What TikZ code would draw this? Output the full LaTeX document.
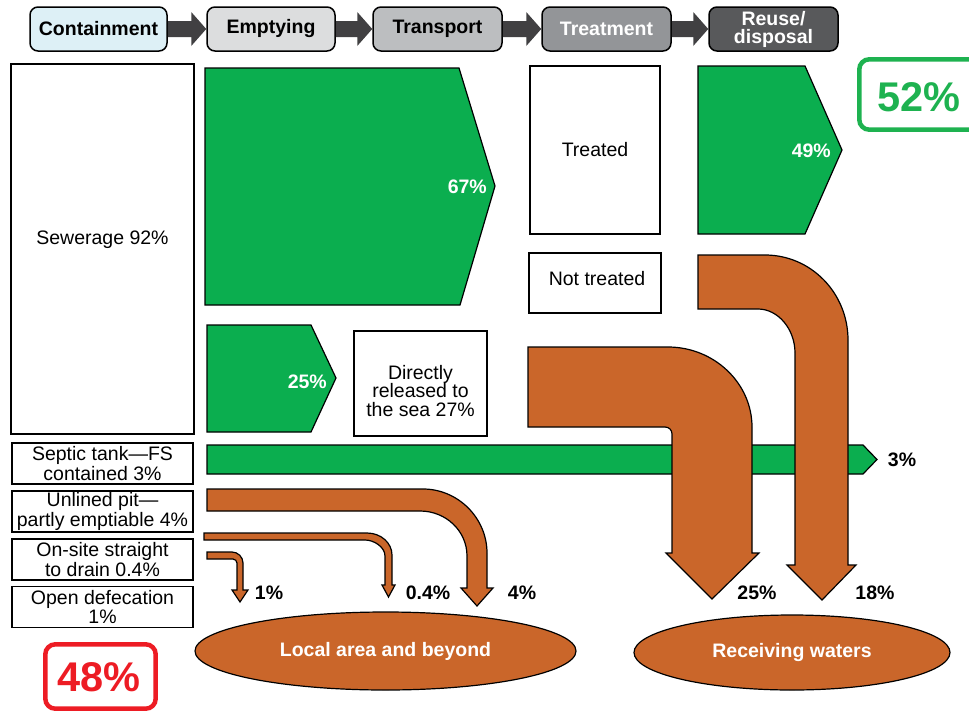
\documentclass[tikz,border=0pt]{standalone}
\usepackage{fontspec}
\setmainfont{Liberation Sans}
\usetikzlibrary{shapes.geometric,calc}
\definecolor{flowgreen}{RGB}{11,174,79}
\definecolor{floworange}{RGB}{202,102,42}
\definecolor{pctgreen}{RGB}{30,178,80}
\definecolor{pctred}{RGB}{237,28,36}
\definecolor{hdA}{RGB}{221,240,246}
\definecolor{hdB}{RGB}{220,221,222}
\definecolor{hdC}{RGB}{188,190,192}
\definecolor{hdD}{RGB}{147,149,152}
\definecolor{hdE}{RGB}{88,89,91}
\definecolor{hdarrowc}{RGB}{65,64,66}
\newcommand\hdconn[2]{\fill[hdarrowc] ($(#1.east)+(0,-8)$) -- ($(#2.west)+(-15,-8)$) -- ($(#2.west)+(-15,-17)$) -- (#2.west) -- ($(#2.west)+(-15,17)$) -- ($(#2.west)+(-15,8)$) -- ($(#1.east)+(0,8)$) -- cycle;}
\begin{document}
\begin{tikzpicture}[x=1pt,y=-1pt,
  every node/.style={font=\fontsize{19.5}{17}\selectfont, inner sep=0pt, align=center},
  hdbox/.style={draw=black, line width=1.5pt, rounded corners=8pt, minimum height=44pt, minimum width=129pt, font=\bfseries\fontsize{19.5}{18}\selectfont},
  box/.style={draw=black, line width=1.5pt, fill=white},
  sidebox/.style={box, minimum width=181pt, minimum height=41pt},
  greenflow/.style={fill=flowgreen, draw=black, line width=1.2pt},
  orangeflow/.style={fill=floworange, draw=black, line width=1.2pt},
  pct/.style={font=\bfseries\fontsize{19.5}{16.5}\selectfont},
  bigpct/.style={font=\bfseries\fontsize{41.5}{41.5}\selectfont},
  sink/.style={ellipse, fill=floworange, draw=black, line width=1.2pt, text=white, font=\bfseries\fontsize{19.5}{16.5}\selectfont}
]
\useasboundingbox (0,0) rectangle (969,712);

% header
\node[hdbox, fill=hdA, minimum width=137pt] (cont) at (98.5,29) {Containment};
\node[hdbox, fill=hdB, minimum width=128pt] (empt) at (271,29) {Emptying};
\node[hdbox, fill=hdC] (trans) at (437.5,29) {Transport};
\node[hdbox, fill=hdD, text=white] (treat) at (606.5,29) {Treatment};
\node[hdbox, fill=hdE, text=white] (reuse) at (773.5,29) {Reuse/\\disposal};
\hdconn{cont}{empt}
\hdconn{empt}{trans}
\hdconn{trans}{treat}
\hdconn{treat}{reuse}

% sewerage
\node[box, minimum width=183pt, minimum height=370pt] (sew) at (102.5,249) {};
\node (sewtext) at (102.5,240) {Sewerage 92\%};

\draw[greenflow] (205,68) -- (459,68) -- (495,186) -- (460,305) -- (205,305) -- cycle;
\node[pct, text=white, anchor=east] (p67) at (487,187) {67\%};
\draw[greenflow] (207,325) -- (311,325) -- (336,378) -- (311,432) -- (207,432) -- cycle;
\node[pct, text=white, anchor=east] (p25g) at (327,382) {25\%};

\node[box, minimum width=133pt, minimum height=105pt] (direct) at (420.5,383.5) {};
\node[font=\fontsize{19.5}{18.5}\selectfont] (directtext) at (420.5,391) {Directly\\released to\\the sea 27\%};

\node[box, minimum width=130pt, minimum height=168pt] (treated) at (595,150) {Treated};
\node[box, minimum width=132pt, minimum height=60pt] (nottreated) at (595,283) {};
\node (nottext) at (597,279) {Not treated};

\draw[greenflow] (698,66) -- (805,66) -- (842,150) -- (805,234) -- (698,234) -- cycle;
\node[pct, text=white, anchor=east] (p49) at (831,151) {49\%};

% side boxes
\node[sidebox] (septic) at (102.5,463.5) {Septic tank—FS\\contained 3\%};
\node[sidebox] (unlined) at (102.5,511.5) {Unlined pit—\\partly emptiable 4\%};
\node[sidebox] (onsite) at (102.5,559.5) {On-site straight\\to drain 0.4\%};
\node[sidebox] (opendef) at (102.5,607) {Open defecation\\1\%};

% septic green bar
\draw[greenflow] (207,445) -- (863,445) -- (877,459.5) -- (863,474) -- (207,474) -- cycle;
\node[pct] (p3) at (902,460) {3\%};

% orange flows (right)
\draw[orangeflow] (528,347) -- (668,347) .. controls (714,347) and (752,383) .. (752,427)
  -- (752,553) -- (759,553) -- (712,599) -- (666,553) -- (672,553) -- (672,434)
  .. controls (672,430) and (669,427) .. (665,427) -- (528,427) -- cycle;
\draw[orangeflow] (698,255) -- (765,255) .. controls (811,255) and (848,293) .. (848,340)
  -- (848,565) -- (856,565) -- (822,600) -- (787,565) -- (795,565) -- (795,353)
  .. controls (795,329) and (778,309) .. (758,309) -- (698,309) -- cycle;
\node[pct] (p25) at (757,593) {25\%};
\node[pct] (p18) at (875,593) {18\%};

% orange flows (left)
\draw[orangeflow] (207,489) -- (423,489) .. controls (458,489) and (487,518) .. (487,553)
  -- (487,588) -- (493,588) -- (477,606) -- (461,588) -- (467,588) -- (467,556)
  .. controls (467,531) and (446,511) .. (420,511) -- (207,511) -- cycle;
\draw[orangeflow] (204,533) -- (367,533) .. controls (381,533) and (392,543) .. (392,555)
  -- (392,585) -- (395,585) -- (388.5,597) -- (382,585) -- (385,585) -- (385,556)
  .. controls (385,547) and (374,540) .. (365,540) -- (204,540) -- cycle;
\draw[orangeflow] (207,552) -- (232,552) .. controls (238,552) and (243,557) .. (243,563)
  -- (243,590) -- (248,590) -- (240,602) -- (232,590) -- (237,590) -- (237,563)
  .. controls (237,561) and (235,559) .. (233,559) -- (207,559) -- cycle;
\node[pct] (p1) at (269,593) {1\%};
\node[pct] (p04) at (428,593) {0.4\%};
\node[pct] (p4) at (522,593) {4\%};

% sinks
\node[sink, minimum width=381pt, minimum height=78pt] (local) at (385.5,651) {Local area and beyond};
\node[sink, minimum width=316pt, minimum height=75pt] (recv) at (792,652.5) {Receiving waters};

% totals
\draw[pctgreen, line width=4.5pt, rounded corners=10pt] (859.3,59.3) rectangle (990,129.7);
\node[bigpct, text=pctgreen] (p52) at (919,97) {52\%};
\draw[pctred, line width=4.5pt, rounded corners=10pt] (45.3,644.3) rectangle (155.7,708.7);
\node[bigpct, text=pctred] (p48) at (99,677) {48\%};
\end{tikzpicture}
\end{document}
